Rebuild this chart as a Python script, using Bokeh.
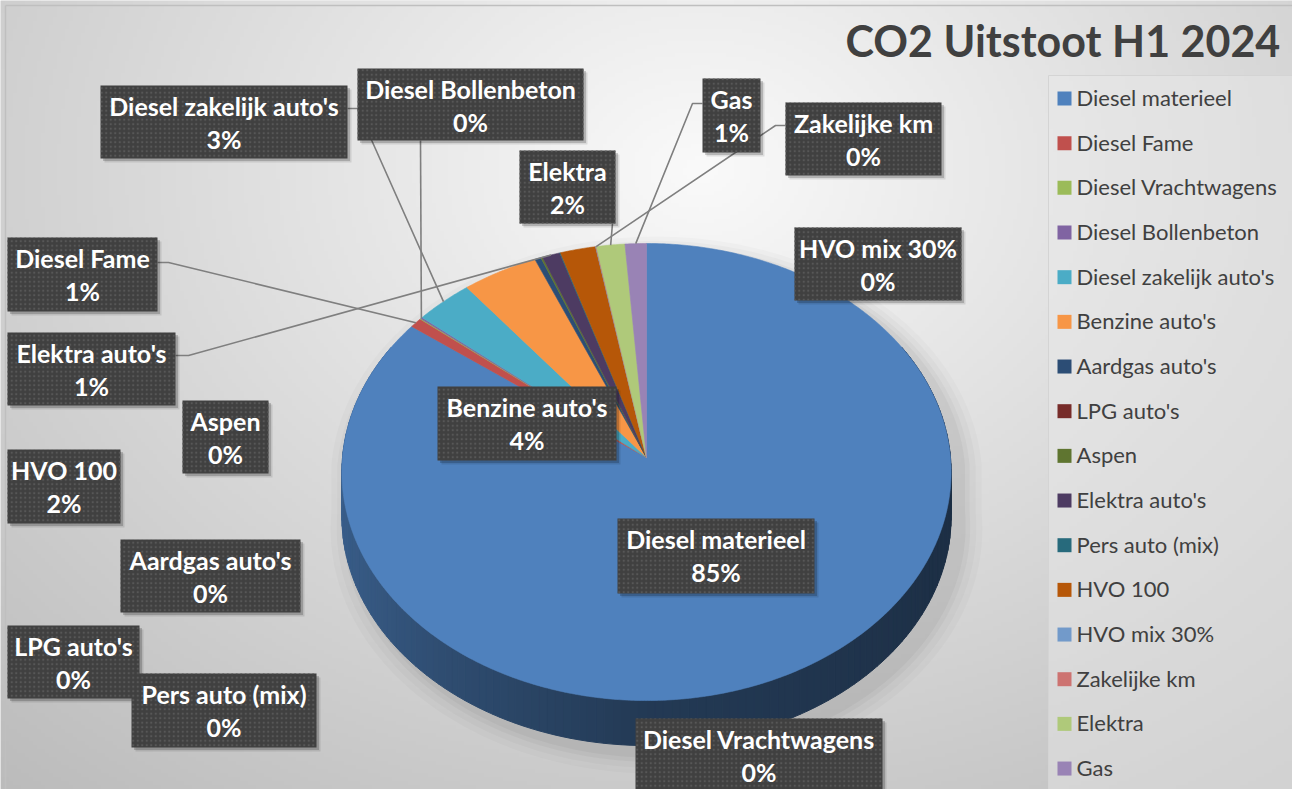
import numpy as np
from bokeh.plotting import figure
from bokeh.models import Range1d
from bokeh.embed import file_html
from bokeh.resources import INLINE
from bokeh.core.properties import value

# ---------------- data ----------------
categories = ["Diesel materieel", "Diesel Fame", "Diesel Vrachtwagens", "Diesel Bollenbeton",
              "Diesel zakelijk auto's", "Benzine auto's", "Aardgas auto's", "LPG auto's", "Aspen",
              "Elektra auto's", "Pers auto (mix)", "HVO 100", "HVO mix 30%", "Zakelijke km",
              "Elektra", "Gas"]
shares = [85.2, 0.7, 0.05, 0.1, 3.3, 4.3, 0.35, 0.0, 0.1, 1.0, 0.05, 2.0, 0.02, 0.03, 1.6, 1.2]
colors = ["#4F81BD", "#C0504D", "#9BBB59", "#8064A2", "#4BACC6", "#F79646", "#2C4D75", "#772C2A",
          "#5F7530", "#4D3B62", "#276A7C", "#B65708", "#729ACA", "#CD7371", "#AFC97A", "#9983B5"]
title_text = "CO2 Uitstoot  H1 2024"

# ---------------- layout (screen pixel space) ----------------
W, H = 1292, 789
CX, CY = 646, 457
RX, RY, K, DEPTH = 304.0, 227.6, 0.0635, 45.0

label_boxes = {  # left, top, right, bottom
    "Diesel materieel": (617, 518, 814, 593),
    "Diesel Fame": (7, 237, 157, 311),
    "Diesel Vrachtwagens": (635, 718, 882, 792),
    "Diesel Bollenbeton": (357, 68, 583, 140),
    "Diesel zakelijk auto's": (100, 85, 347, 158),
    "Benzine auto's": (437, 386, 616, 460),
    "Aardgas auto's": (120, 539, 300, 612),
    "LPG auto's": (7, 625, 139, 698),
    "Aspen": (182, 400, 268, 473),
    "Elektra auto's": (7, 332, 175, 405),
    "Pers auto (mix)": (131, 673, 316, 747),
    "HVO 100": (7, 449, 120, 523),
    "HVO mix 30%": (794, 227, 961, 300),
    "Zakelijke km": (785, 102, 941, 175),
    "Elektra": (519, 150, 615, 223),
    "Gas": (702, 78, 760, 152),
}
leader_starts = {  # points on/near the box, the end is the slice rim
    "Diesel zakelijk auto's": [(347, 108), (357, 108)],
    "Diesel Bollenbeton": [(420, 140)],
    "Diesel Fame": [(157, 262), (168, 262)],
    "Elektra auto's": [(175, 355), (188, 355)],
    "Elektra": [(612, 223)],
    "Gas": [(702, 103), (692, 103)],
    "Zakelijke km": [(785, 125), (775, 125)],
}


def rim(tdeg):
    t = np.radians(tdeg)
    X, Z = np.sin(t), np.cos(t)
    d = 1 + K * Z
    return CX + RX * X / d, CY - RY * Z / d


def shade(hexc, f):
    r, g, b = int(hexc[1:3], 16), int(hexc[3:5], 16), int(hexc[5:7], 16)
    return "#%02x%02x%02x" % (min(255, int(r * f)), min(255, int(g * f)), min(255, int(b * f)))


total = float(sum(shares))
cum = np.concatenate([[0.0], np.cumsum(shares)]) / total * 360.0
mid = (cum[:-1] + cum[1:]) / 2

p = figure(width=W, height=H, x_range=Range1d(0, W), y_range=Range1d(H, 0),
           output_backend="svg", toolbar_location=None, min_border=0)
p.axis.visible = False
p.grid.visible = False
p.outline_line_color = None
p.background_fill_color = "#e2e2e2"
p.border_fill_color = "#e2e2e2"

# background gradient
GH, GW = 198, 324
yy, xx = np.mgrid[0:GH, 0:GW]
sx = (xx + 0.5) * W / GW
sy = (yy + 0.5) * H / GH
dist = np.sqrt(((sx - 700) / 880.0) ** 2 + ((sy - 170) / 680.0) ** 2)
v = np.clip(250 - 52 * dist, 0, 255).astype(np.uint32)
img = (255 << 24) | (v << 16) | (v << 8) | v
p.image_rgba(image=[img.astype(np.uint32)], x=0, y=0, dw=W, dh=H)

# chart border
p.multi_line([[5, 5], [5, 1292]], [[789, 5], [5, 5]], line_color="#bfbfbf", line_width=1.5)

# legend panel
p.quad(left=[1048], right=[1300], top=[75], bottom=[800], fill_color="#e8e8e8", fill_alpha=0.45,
       line_color="#d4d4d4", line_width=1)

# pie shadow
tt_up = np.linspace(-90, 90, 120)
tt_dn = np.linspace(90, 270, 120)
ux, uy = rim(tt_up)
dx, dy = rim(tt_dn)
ox = np.concatenate([ux, dx])
oy = np.concatenate([uy, dy + DEPTH])
for s, a in [(1.07, 0.02), (1.05, 0.025), (1.03, 0.03), (1.015, 0.035)]:
    p.patch((ox - CX) * s + CX + 10, (oy - CY) * s + CY + 8, fill_color="black", fill_alpha=a,
            line_color=None)

# side of the pie
step = 1.5
ts = np.arange(60, 300, step)
sxs, sys_, scol = [], [], []
for t0 in ts:
    t = np.array([t0, t0 + step])
    ax, ay = rim(t)
    idx = int(np.searchsorted(cum, t0 + step / 2, side="right") - 1)
    idx = min(max(idx, 0), len(shares) - 1)
    f = float(np.interp(t0 + step / 2, [60, 110, 180, 240, 300], [0.36, 0.37, 0.45, 0.68, 0.8]))
    c = shade(colors[idx], f)
    sxs.append([ax[0], ax[1], ax[1], ax[0]])
    sys_.append([ay[0], ay[1], ay[1] + DEPTH, ay[0] + DEPTH])
    scol.append(c)
p.patches(sxs, sys_, fill_color=scol, line_color=scol, line_width=1)

# top faces
txs, tys, tcol = [], [], []
for i in range(len(shares)):
    a0, a1 = cum[i], cum[i + 1]
    if a1 - a0 <= 0:
        continue
    m = max(2, int((a1 - a0) / 0.5) + 2)
    rx_, ry_ = rim(np.linspace(a0, a1, m))
    txs.append([CX] + list(rx_))
    tys.append([CY] + list(ry_))
    tcol.append(colors[i])
p.patches(txs, tys, fill_color=tcol, line_color=tcol, line_width=0.6)

# leader lines
lxs, lys = [], []
for name, pts in leader_starts.items():
    i = categories.index(name)
    ex, ey = rim(mid[i])
    lxs.append([q[0] for q in pts] + [float(ex)])
    lys.append([q[1] for q in pts] + [float(ey)])
p.multi_line(lxs, lys, line_color="#7f7f7f", line_width=1.6)

# label boxes
pct = ["%d%%" % int(round(100 * s / total)) for s in shares]
L = [label_boxes[c][0] for c in categories]
T = [label_boxes[c][1] for c in categories]
R = [label_boxes[c][2] for c in categories]
B = [label_boxes[c][3] for c in categories]
for off, a in [(4, 0.10), (2.5, 0.18)]:
    p.quad(left=[l + off for l in L], right=[r + off for r in R], top=[t + off for t in T],
           bottom=[b + off for b in B], fill_color="black", fill_alpha=a, line_color=None)
for i in range(len(categories)):
    p.quad(left=[L[i]], right=[R[i]], top=[T[i]], bottom=[B[i]], fill_color="#404040",
           line_color=None, hatch_pattern="dot", hatch_color="#575757", hatch_scale=4.5,
           hatch_weight=1.0)
    xc = (L[i] + R[i]) / 2
    p.text([xc], [T[i] + 20], text=[categories[i]], text_align="center",
           text_baseline="middle", text_color="white", text_font=value("Lato"),
           text_font_style="bold", text_font_size="25px")
    p.text([xc], [T[i] + 53], text=[pct[i]], text_align="center",
           text_baseline="middle", text_color="white", text_font=value("Lato"),
           text_font_style="bold", text_font_size="25px")

# legend
ly0, lstep = 98.0, 44.67
ly = [ly0 + k * lstep for k in range(len(categories))]
p.rect(x=[1064] * len(categories), y=ly, width=14, height=14, fill_color=colors, line_color=None)
p.text(x=[1076] * len(categories), y=[y - 1 for y in ly], text=categories, text_align="left",
       text_baseline="middle", text_color="#404040", text_font=value("Lato"),
       text_font_size="22px")

# title
p.text(x=[845], y=[40], text=[title_text], text_align="left", text_baseline="middle",
       text_color="#404040", text_font=value("Lato"), text_font_style="bold",
       text_font_size="43px")

open("out.html", "w").write(file_html(p, INLINE))
